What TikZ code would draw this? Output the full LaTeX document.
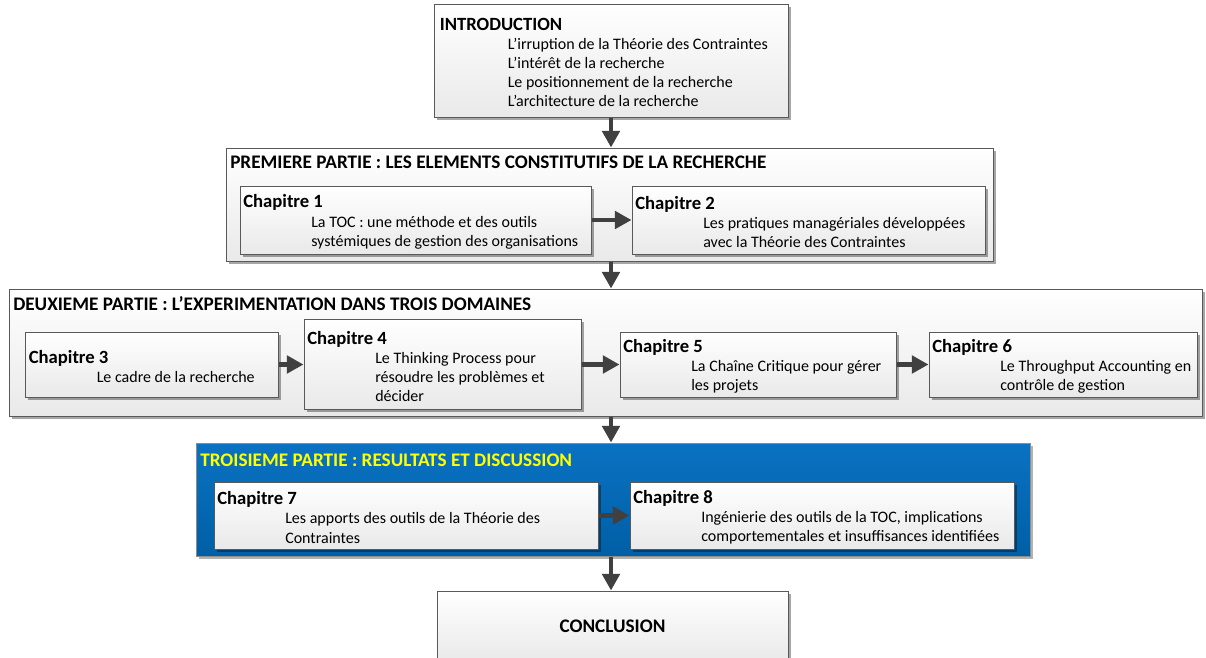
\documentclass[tikz,border=0pt]{standalone}
\usepackage{fontspec}
\setmainfont{Carlito}
\usepackage{tikz}
\usetikzlibrary{positioning,arrows.meta,shadows}
\definecolor{BoxLine}{HTML}{595959}
\definecolor{BoxShade}{HTML}{E9E9E9}
\definecolor{PartBlue}{HTML}{0A72C2}
\definecolor{PartBlueDark}{HTML}{005FA6}
\definecolor{TitleYellow}{HTML}{FFFF00}
\definecolor{ArrowGray}{HTML}{404040}
\newlength{\unitpx}
\setlength{\unitpx}{0.75pt}
\newcommand{\tabin}{\hspace*{51pt}}
\newcommand{\headline}[1]{{\fontsize{14pt}{14.4pt}\selectfont\bfseries #1}}

\begin{document}
\begin{tikzpicture}[
  x=0.75pt,y=-0.75pt,
  box/.style={draw=BoxLine,line width=0.75pt,top color=white,bottom color=BoxShade,
              drop shadow={shadow xshift=2pt,shadow yshift=-2pt,fill=black,opacity=0.35},
              inner sep=0pt},
  bluebox/.style={draw=black!45,line width=0.75pt,top color=PartBlue,bottom color=PartBlueDark,
              drop shadow={shadow xshift=2pt,shadow yshift=-2pt,fill=black,opacity=0.3},
              inner sep=0pt},
  ptitle/.style={anchor=west,inner sep=0pt,font=\fontsize{14.4pt}{14.4pt}\selectfont\bfseries},
  ctext/.style={anchor=west,align=left,inner sep=0pt,yshift=-1.5pt,
                font=\fontsize{12pt}{14.4pt}\selectfont},
  flow/.style={-{Triangle[length=12.5pt,width=13pt]},line width=3.5pt,draw=ArrowGray}
]
\useasboundingbox (0,0) rectangle (1206,657);
\clip (0,0) rectangle (1206,657);

% Introduction
\node[box,minimum width=354\unitpx,minimum height=113\unitpx] (intro) at (611,60.5) {};
\node[ctext] (introtxt) at ([xshift=6\unitpx]intro.west)
  {\headline{INTRODUCTION}\\
   \tabin L’irruption de la Théorie des Contraintes\\
   \tabin L’intérêt de la recherche\\
   \tabin Le positionnement de la recherche\\
   \tabin L’architecture de la recherche};

% Premiere partie
\node[box,minimum width=767\unitpx,minimum height=113\unitpx] (part1) at (609.5,204.5) {};
\node[ptitle] (part1title) at (230,162.7) {PREMIERE PARTIE : LES ELEMENTS CONSTITUTIFS DE LA RECHERCHE};
\node[box,minimum width=351\unitpx,minimum height=68\unitpx] (ch1) at (415.5,220) {};
\node[ctext] (ch1txt) at ([xshift=3.5\unitpx]ch1.west)
  {\headline{Chapitre 1}\\
   \tabin La TOC : une méthode et des outils\\
   \tabin systémiques de gestion des organisations};
\node[box,minimum width=353\unitpx,minimum height=68\unitpx] (ch2) at (808.5,220) {};
\node[ctext] (ch2txt) at ([xshift=3.5\unitpx]ch2.west)
  {\headline{Chapitre 2}\\
   \tabin Les pratiques managériales développées\\
   \tabin avec la Théorie des Contraintes};

% Deuxieme partie
\node[box,minimum width=1193\unitpx,minimum height=127\unitpx] (part2) at (605.5,352.5) {};
\node[ptitle] (part2title) at (13,304) {DEUXIEME PARTIE : L’EXPERIMENTATION DANS TROIS DOMAINES};
\node[box,minimum width=253\unitpx,minimum height=65\unitpx] (ch3) at (152,364.5) {};
\node[ctext] (ch3txt) at ([xshift=3.5\unitpx]ch3.west)
  {\headline{Chapitre 3}\\
   \tabin Le cadre de la recherche};
\node[box,minimum width=277\unitpx,minimum height=90\unitpx] (ch4) at (442.5,364.5) {};
\node[ctext] (ch4txt) at ([xshift=3.5\unitpx]ch4.west)
  {\headline{Chapitre 4}\\
   \tabin Le Thinking Process pour\\
   \tabin résoudre les problèmes et\\
   \tabin décider};
\node[box,minimum width=276\unitpx,minimum height=65\unitpx] (ch5) at (758,364.5) {};
\node[ctext] (ch5txt) at ([xshift=3.5\unitpx]ch5.west)
  {\headline{Chapitre 5}\\
   \tabin La Chaîne Critique pour gérer\\
   \tabin les projets};
\node[box,minimum width=268\unitpx,minimum height=65\unitpx] (ch6) at (1063,364.5) {};
\node[ctext] (ch6txt) at ([xshift=3.5\unitpx]ch6.west)
  {\headline{Chapitre 6}\\
   \tabin Le Throughput Accounting en\\
   \tabin contrôle de gestion};

% Troisieme partie
\node[bluebox,minimum width=834\unitpx,minimum height=113\unitpx] (part3) at (613,499.5) {};
\node[ptitle,text=TitleYellow] (part3title) at (200,460) {TROISIEME PARTIE : RESULTATS ET DISCUSSION};
\node[box,minimum width=384\unitpx,minimum height=67\unitpx] (ch7) at (406,515.5) {};
\node[ctext] (ch7txt) at ([xshift=3.5\unitpx]ch7.west)
  {\headline{Chapitre 7}\\
   \tabin Les apports des outils de la Théorie des\\
   \tabin Contraintes};
\node[box,minimum width=384\unitpx,minimum height=67\unitpx] (ch8) at (822,515.5) {};
\node[ctext] (ch8txt) at ([xshift=3.5\unitpx]ch8.west)
  {\headline{Chapitre 8}\\
   \tabin Ingénierie des outils de la TOC, implications\\
   \tabin comportementales et insuffisances identifiées};

% Conclusion
\node[box,minimum width=351\unitpx,minimum height=71\unitpx,
      font=\fontsize{14.4pt}{14.4pt}\selectfont\bfseries] (concl) at (612.5,626.5) {CONCLUSION};

% Fleches
\draw[flow] (intro.south) -- (intro.south |- part1.north);
\draw[flow] (part1.south -| intro.south) -- (part2.north -| intro.south);
\draw[flow] (part2.south -| intro.south) -- (part3.north -| intro.south);
\draw[flow] (part3.south -| intro.south) -- (concl.north -| intro.south);
\draw[flow] (ch1) -- (ch2);
\draw[flow] (ch3) -- (ch4);
\draw[flow] (ch4) -- (ch5);
\draw[flow] (ch5) -- (ch6);
\draw[flow] (ch7) -- (ch8);
\end{tikzpicture}
\end{document}
